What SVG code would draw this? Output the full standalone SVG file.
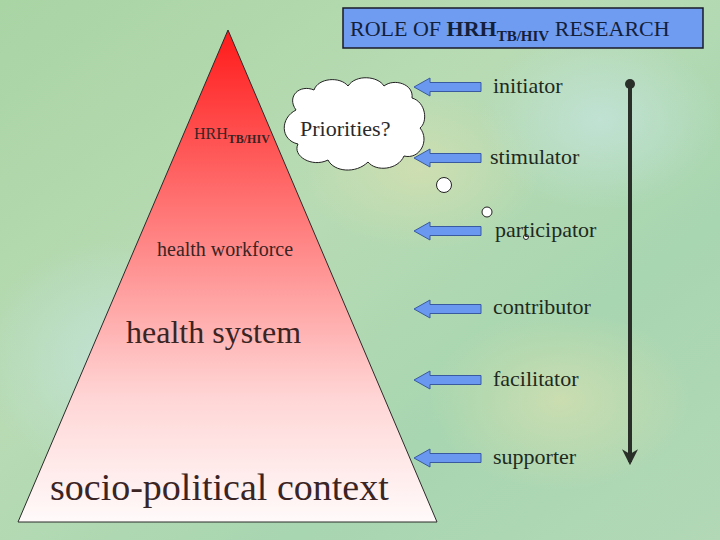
<svg xmlns="http://www.w3.org/2000/svg" width="720" height="540" viewBox="0 0 720 540">
<defs>
<linearGradient id="bg" x1="0" y1="0" x2="1" y2="1">
<stop offset="0" stop-color="#a9d4a4"/>
<stop offset="0.4" stop-color="#b8dbb4"/>
<stop offset="0.7" stop-color="#a8d6b0"/>
<stop offset="1" stop-color="#b2d8b6"/>
</linearGradient>
<radialGradient id="blob1" cx="0.5" cy="0.5" r="0.5">
<stop offset="0" stop-color="#d8e0b0" stop-opacity="0.7"/>
<stop offset="1" stop-color="#d8e0b0" stop-opacity="0"/>
</radialGradient>
<radialGradient id="blob2" cx="0.5" cy="0.5" r="0.5">
<stop offset="0" stop-color="#c4e4dc" stop-opacity="0.8"/>
<stop offset="1" stop-color="#c4e4dc" stop-opacity="0"/>
</radialGradient>
<linearGradient id="tri" x1="0" y1="0" x2="0" y2="1">
<stop offset="0" stop-color="#ff1a1a"/>
<stop offset="0.45" stop-color="#ff8a8a"/>
<stop offset="0.75" stop-color="#ffd6d6"/>
<stop offset="1" stop-color="#fffafa"/>
</linearGradient>
<marker id="ah" viewBox="0 0 10 10" refX="8" refY="5" markerWidth="4" markerHeight="4" orient="auto" markerUnits="strokeWidth">
<path d="M0,0 L10,5 L0,10 L3,5 Z" fill="#2a2f2a"/>
</marker>
<path id="barrow" d="M0,0 L16,-9 L16,-4.5 L67,-4.5 L67,4.5 L16,4.5 L16,9 Z"/>
</defs>
<style>
text{font-family:"Liberation Serif","Times New Roman",serif}
.lbl{font-size:22px;fill:#1e2a1e}
.tri{fill:#3a2424}
.arrow{fill:#6a98f0;stroke:#3a5aa0;stroke-width:1}
.bub{fill:#ffffff;stroke:#222222;stroke-width:1}
</style>
<rect width="720" height="540" fill="url(#bg)"/>
<ellipse cx="420" cy="170" rx="120" ry="80" fill="url(#blob1)"/>
<ellipse cx="120" cy="360" rx="140" ry="120" fill="url(#blob2)"/>
<ellipse cx="560" cy="400" rx="130" ry="90" fill="url(#blob1)"/>
<ellipse cx="600" cy="120" rx="120" ry="90" fill="url(#blob2)"/>

<g id="pyramid">
<polygon points="228,30 18,522 437,522" fill="url(#tri)" stroke="#2a2a2a" stroke-width="1"/>
<text class="tri" x="194" y="139" font-size="16">HRH<tspan font-size="12" font-weight="bold" dy="4">TB/HIV</tspan></text>
<text class="tri" x="157" y="256" font-size="20">health workforce</text>
<text class="tri" x="126" y="343" font-size="32">health system</text>
<text class="tri" x="50" y="500" font-size="38">socio-political context</text>
</g>

<g id="title">
<rect x="343" y="8" width="360" height="40" fill="#6f9cf0" stroke="#1a1a2a" stroke-width="1.5"/>
<text x="350" y="36" font-size="22" fill="#14203a">ROLE OF <tspan font-weight="bold">HRH</tspan><tspan font-weight="bold" font-size="15" dy="5">TB/HIV</tspan><tspan dy="-5"> RESEARCH</tspan></text>
</g>

<g id="cloud">
<path class="bub" d="M296,110 C286,96 300,84 314,90 C318,78 340,76 348,86 C356,74 378,76 384,86 C394,78 414,84 412,98 C426,102 428,122 420,128 C430,140 420,160 404,156 C398,170 376,172 368,162 C356,174 334,172 328,160 C312,168 292,156 298,144 C280,140 280,118 296,110 Z"/>
<text x="300" y="136" font-size="22" fill="#2a2a2a">Priorities?</text>
<circle class="bub" cx="444" cy="185" r="7.5"/>
<circle class="bub" cx="487" cy="212" r="5"/>
<circle class="bub" cx="526" cy="237" r="2.5"/>
</g>

<g id="connectors">
<use href="#barrow" class="arrow" x="414" y="87"/>
<use href="#barrow" class="arrow" x="414" y="158"/>
<use href="#barrow" class="arrow" x="414" y="231"/>
<use href="#barrow" class="arrow" x="414" y="309"/>
<use href="#barrow" class="arrow" x="414" y="380"/>
<use href="#barrow" class="arrow" x="414" y="458"/>
<line x1="630" y1="84" x2="630" y2="462" stroke="#2a2f2a" stroke-width="4" marker-end="url(#ah)"/>
<circle cx="630" cy="84" r="5" fill="#2a2f2a"/>
</g>

<g id="labels">
<text class="lbl" x="493" y="93">initiator</text>
<text class="lbl" x="490" y="164">stimulator</text>
<text class="lbl" x="495" y="237">participator</text>
<text class="lbl" x="493" y="314">contributor</text>
<text class="lbl" x="493" y="386">facilitator</text>
<text class="lbl" x="493" y="464">supporter</text>
</g>
</svg>
